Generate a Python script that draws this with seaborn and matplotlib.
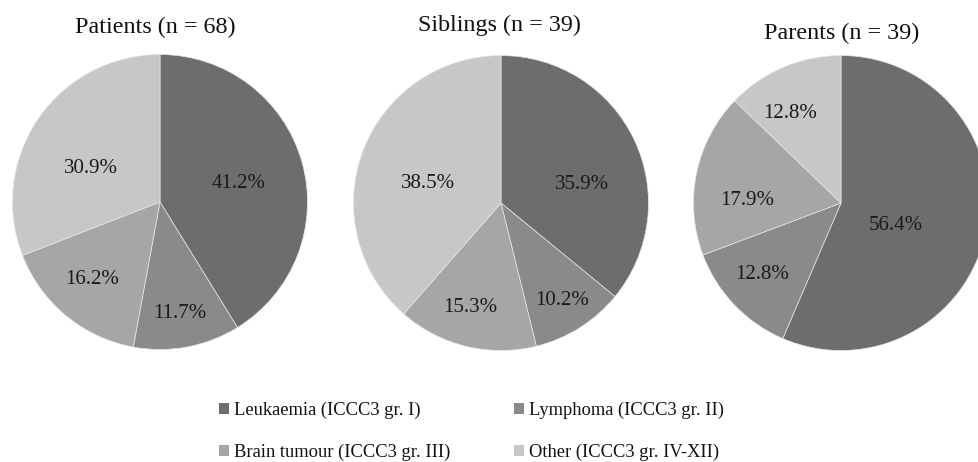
import matplotlib
matplotlib.use("Agg")
import matplotlib.pyplot as plt
from matplotlib.patches import Patch
import numpy as np
import seaborn as sns

# Diagnostic groups (ICCC3) and their shares, in percent
categories = [
    "Leukaemia (ICCC3 gr. I)",
    "Lymphoma (ICCC3 gr. II)",
    "Brain tumour (ICCC3 gr. III)",
    "Other (ICCC3 gr. IV-XII)",
]
groups = ["Patients (n = 68)", "Siblings (n = 39)", "Parents (n = 39)"]
patients = [41.2, 11.7, 16.2, 30.9]
siblings = [35.9, 10.2, 15.3, 38.5]
parents = [56.4, 12.8, 17.9, 12.8]

sns.set_theme(style="white")
plt.rcParams["font.family"] = ["Liberation Serif", "DejaVu Serif"]

palette = sns.color_palette(["#6d6d6d", "#8a8a8a", "#a6a6a6", "#c7c7c7"])

W, H = 979, 462
fig = plt.figure(figsize=(W / 100, H / 100), dpi=100)
fig.patch.set_facecolor("white")

# pie centre (px from left, px from top), radius in px
layout = [(160, 202, 147.5), (501, 203, 147.5), (841, 203, 147.5)]
# label placement: distance from centre (fraction of radius) and
# angular nudge (degrees) away from each wedge's mid-angle
label_r = [
    [0.55, 0.765, 0.70, 0.52],
    [0.56, 0.78, 0.742, 0.51],
    [0.40, 0.72, 0.637, 0.70],
]
label_shift = [
    [-3.0, -0.4, -1.5, 8.5],
    [-12.5, 0.0, -2.9, 6.0],
    [-10.5, -1.3, 10.2, 6.5],
]
title_pos = [(155, 27), (499, 25), (842, 33)]

for vals, (cx, cy, r), lr, ls, title, (tx, ty) in zip(
    [patients, siblings, parents], layout, label_r, label_shift, groups, title_pos
):
    ax = fig.add_axes([(cx - r) / W, (H - cy - r) / H, 2 * r / W, 2 * r / H])
    wedges, texts = ax.pie(
        vals,
        colors=palette,
        startangle=90,
        counterclock=False,
        labels=[f"{v:.1f}%" for v in vals],
        labeldistance=0.6,
        wedgeprops=dict(edgecolor="#e6e6e6", linewidth=0.5),
        textprops=dict(fontsize=15, color="#1a1a1a"),
    )
    for w, t, d, s in zip(wedges, texts, lr, ls):
        ang = np.deg2rad((w.theta1 + w.theta2) / 2 + s)
        t.set_position((d * np.cos(ang), d * np.sin(ang)))
        t.set_ha("center")
        t.set_va("center")
    ax.set_xlim(-1, 1)
    ax.set_ylim(-1, 1)
    ax.set_aspect("equal")
    ax.axis("off")
    fig.text(tx / W, 1 - ty / H, title, ha="center", va="center",
             fontsize=17.4, color="#111111")

handles = [Patch(facecolor=c, edgecolor="none") for c in palette]
order = [0, 2, 1, 3]
fig.legend(
    [handles[i] for i in order],
    [categories[i] for i in order],
    ncol=2,
    loc="center left",
    bbox_to_anchor=(202 / W, 1 - 431.5 / H),
    frameon=False,
    fontsize=13.3,
    handlelength=0.55,
    handleheight=0.55,
    handletextpad=0.3,
    columnspacing=3.4,
    labelspacing=1.35,
    labelcolor="#111111",
)

fig.savefig("out.png", dpi=100, facecolor="white")
